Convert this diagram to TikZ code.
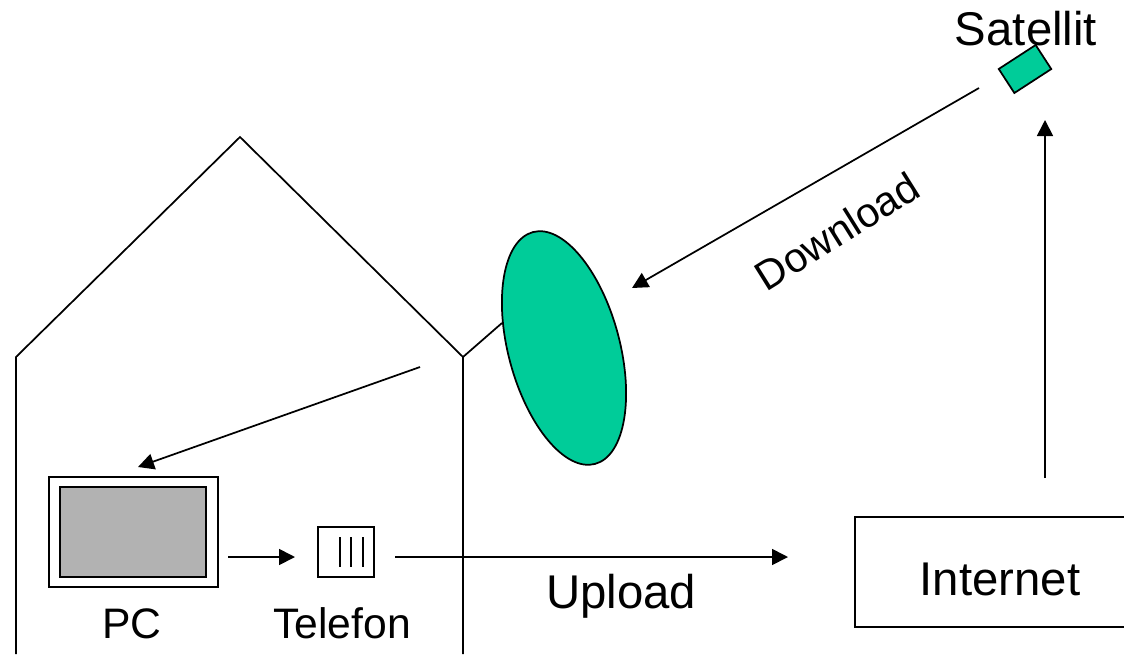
\documentclass[tikz,border=0pt]{standalone}
\usepackage{fontspec}
\setmainfont{Liberation Sans}
\usetikzlibrary{arrows.meta,shapes.geometric}
\definecolor{dish}{HTML}{00CC99}
\definecolor{screen}{HTML}{B2B2B2}
\tikzset{
  ln/.style={line width=1.3pt,black,line cap=butt},
  arr/.style={ln,-{Triangle[length=12pt,width=12pt]},shorten >=0pt},
  lab/.style={font=\fontsize{35.5pt}{36pt}\selectfont,inner sep=0pt,anchor=base},
  labs/.style={font=\fontsize{32pt}{33pt}\selectfont,inner sep=0pt,anchor=base},
}
\begin{document}
\begin{tikzpicture}[x=0.75pt,y=-0.75pt]
\useasboundingbox (0,0) rectangle (1124,654);
% house
\coordinate (h1) at (16,654);
\coordinate (h2) at (16,357);
\coordinate (h3) at (240,137);
\coordinate (h4) at (463,357);
\coordinate (h5) at (463,654);
\draw[ln,line join=miter] (h1) -- (h2) -- (h3) -- (h4) -- (h5);
% dish
\node[ellipse,draw,ln,fill=dish,inner sep=0pt,minimum width=83.5pt,minimum height=180pt,rotate=15] (dish) at (564,348) {};
\coordinate (dishfoot) at (502,323);
\draw[ln] (h4) -- (dishfoot);
% satellite
\node[rectangle,draw,ln,fill=dish,inner sep=0pt,minimum width=33pt,minimum height=21.5pt,rotate=33] (sat) at (1025,69) {};
% PC
\node[rectangle,draw,ln,fill=white,inner sep=0pt,minimum width=126.75pt,minimum height=82.5pt] (pc) at (133.5,532) {};
\node[rectangle,draw,line width=1.7pt,fill=screen,inner sep=0pt,minimum width=109.5pt,minimum height=67.5pt] (scr) at (133,532) {};
% phone
\node[rectangle,draw,ln,inner sep=0pt,minimum width=42pt,minimum height=37.5pt] (tel) at (346,552) {};
\coordinate (k1a) at (340,537); \coordinate (k1b) at (340,567);
\coordinate (k2a) at (351,537); \coordinate (k2b) at (351,567);
\coordinate (k3a) at (363,537); \coordinate (k3b) at (363,567);
\draw[ln] (k1a) -- (k1b) (k2a) -- (k2b) (k3a) -- (k3b);
% internet
\node[rectangle,draw,ln,inner sep=0pt,minimum width=202pt,minimum height=82.5pt] (net) at (990,572) {};
% free arrow ends
\coordinate (a1s) at (979,88);  \coordinate (a1e) at (632,288);
\coordinate (a2s) at (1045,478);\coordinate (a2e) at (1045,120);
\coordinate (a3s) at (420,367); \coordinate (a3e) at (138,467);
\coordinate (a4s) at (228,557); \coordinate (a4e) at (295,557);
\coordinate (a5s) at (395,557); \coordinate (a5e) at (788,557);
\draw[arr] (a1s) -- (a1e);
\draw[arr] (a2s) -- (a2e);
\draw[arr] (a3s) -- (a3e);
\draw[arr] (a4s) -- (a4e);
\draw[arr] (a5s) -- (a5e);
% labels
\node[lab] (lsat) at (1026,45) {Satellit};
\node[lab] (lnet) at (1000,595) {Internet};
\node[lab] (lup) at (621,608) {Upload};
\node[labs] (lpc) at (132,638) {PC};
\node[labs] (ltel) at (342,638) {Telefon};
\node[font=\fontsize{31pt}{32pt}\selectfont,inner sep=0pt,rotate=32,anchor=center] (ldown) at (837,231) {Download};
\end{tikzpicture}
\end{document}
